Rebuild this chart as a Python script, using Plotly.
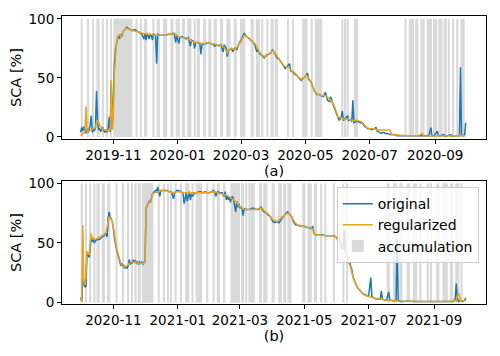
import pandas as pd
import plotly.graph_objects as go

# ---------------- data (day offset from season start, value in %) ----------------
season_a_start = "2019-10-01"
season_b_start = "2020-10-01"

a_original = [(0,4),(1,8),(2,5),(3,9),(4,6),(5,3),(6,7),(7,4),(8,6),(9,10),(10,18),(11,4),(12,6),(13,5),(14,8),
    (15,39),(16,14),(17,6),(18,7),(19,5),(20,6),(21,8),(22,5),(23,4),(24,6),(25,4),(26,7),(27,17),(28,4),(29,45),
    (30,6),(31,40),(32,62),(33,74),(34,80),(35,84),(36,86),(37,83),(38,87),(39,85),(40,89),(42,91),(44,93),(45,92),
    (47,91),(49,90),(51,91),(53,90),(55,89),(57,88),(58,87),(60,83),(61,88),(62,82),(63,88),(65,83),(66,87),(67,86),
    (68,82),(69,87),(71,86),(72,62),(73,87),(75,86),(78,86),(81,86),(83,87),(86,87),(88,88),(89,86),(90,80),(91,86),
    (93,79),(94,84),(96,85),(98,84),(100,83),(102,84),(104,77),(105,82),(107,81),(108,75),(109,80),(111,80),(113,79),
    (114,70),(115,78),(117,79),(119,79),(121,80),(123,79),(125,79),(127,77),(129,78),(131,77),(133,78),(135,72),
    (136,78),(138,75),(139,68),(140,73),(141,74),(143,75),(144,72),(146,75),(148,74),(150,79),(152,82),(154,86),
    (155,88),(157,85),(159,84),(161,82),(163,81),(165,78),(167,72),(168,74),(170,70),(172,69),(174,67),(176,69),
    (178,70),(180,71),(182,74),(184,70),(186,67),(188,66),(190,63),(192,61),(194,58),(196,60),(198,62),(199,56),
    (201,55),(203,53),(205,52),(207,50),(209,48),(211,50),(213,51),(215,54),(216,49),(218,47),(220,43),(222,38),
    (224,36),(226,36),(228,35),(230,34),(232,38),(233,35),(234,31),(236,30),(237,34),(239,28),(241,23),(243,18),
    (245,14),(247,17),(248,22),(249,14),(251,16),(253,18),(254,14),(256,15),(257,13),(258,31),(259,12),(261,13),
    (263,13),(265,12),(267,12),(269,9),(271,8),(272,7),(274,7),(276,6),(278,7),(280,8),(281,5),(283,4),(285,3),
    (287,4),(289,3),(291,3),(293,2),(295,2),(297,2),(300,1),(303,1),(306,1),(309,1),(312,0.5),(315,1),(318,0.5),
    (321,1),(324,0.5),(327,1),(330,1),(332,8),(333,1),(335,1),(338,5),(339,1),(341,1),(344,2),(346,0.5),(348,1),
    (351,2),(352,0.5),(355,1),(357,1),(359,1),(360,59),(361,2),(363,1),(364,2),(365,12)]

a_regularized = [(0,1),(2,3),(4,4),(5,26),(6,5),(8,5),(10,6),(12,7),(14,8),(15,12),(16,14),(18,10),(20,8),(22,6),
    (24,6),(26,5),(28,6),(29,48),(30,6),(31,20),(32,55),(33,72),(34,80),(35,85),(37,87),(38,84),(40,89),(42,91),
    (44,92),(46,91),(50,90),(55,89),(58,88),(62,87),(66,87),(70,86),(75,86),(80,86),(85,87),(88,88),(90,87),(93,85),
    (96,84),(100,84),(104,82),(108,80),(112,80),(116,79),(120,80),(125,79),(130,78),(134,77),(136,76),(139,71),
    (141,74),(143,75),(146,74),(149,77),(152,81),(155,86),(157,85),(160,83),(163,81),(166,78),(168,74),(171,70),
    (174,68),(177,69),(180,71),(182,73),(184,71),(187,67),(190,64),(193,60),(196,59),(198,58),(200,56),(203,54),
    (206,51),(209,49),(211,50),(214,52),(216,50),(219,45),(222,38),(225,36),(229,35),(232,35),(235,33),(238,30),
    (241,25),(244,17),(247,16),(250,15),(254,15),(258,14),(262,14),(266,13),(268,11),(271,8),(274,7),(278,7),
    (282,6),(286,6),(290,6),(293,6),(295,2),(300,1.5),(310,1),(320,1),(324,3),(325,1),(335,0.8),(345,0.8),
    (355,0.8),(360,1.5),(365,1)]

a_accumulation = [(0,2),(6,2),(11,1),(15,3),(20,2),(24,2),(28,1),(31,18),(52,2),(56,2),(60,3),(68,2),(72,3),
    (78,4),(85,3),(90,2),(92,2),(96,3),(101,4),(107,2),(110,3),(116,3),(121,3),(126,3),(132,3),(138,4),(145,3),
    (151,5),(161,3),(166,4),(171,2),(176,2),(180,3),(184,3),(196,1),(201,1),(210,5),(218,2),(222,7),(247,2),
    (250,1),(252,2),(259,4),(307,2),(311,3),(315,1),(317,3),(322,2),(324,2),(328,5),(334,4),(339,4),(344,3),
    (348,2),(352,2),(356,2),(360,4)]

b_original = [(0,4.5),(1,1),(2,20),(3,16),(4,13),(5,14),(6,42),(7,40),(8,38),(9,45),(10,55),(11,51),(12,53),
    (13,50),(14,52),(16,53),(18,53),(20,55),(22,56),(24,58),(25,55),(26,70),(27,76),(28,72),(29,70),(30,68),
    (31,62),(32,54),(34,45),(36,38),(37,35),(38,31),(39,33),(40,30),(41,31),(42,29),(43,30),(44,29),(45,31),
    (46,36),(47,32),(48,34),(49,33),(50,36),(51,34),(52,35),(53,33),(54,34),(55,32),(56,34),(57,33),(58,34),
    (59,32),(60,34),(61,35),(62,78),(63,82),(64,83),(65,85),(66,84),(67,88),(68,91),(69,92),(70,93),(71,94),
    (72,92),(73,97),(74,93),(75,89),(76,94),(78,94),(80,94),(82,94),(84,93),(86,93),(87,90),(88,87),(89,92),
    (91,94),(93,94),(95,93),(97,92),(98,83),(99,90),(100,92),(101,85),(102,91),(103,93),(104,86),(105,91),
    (106,89),(108,92),(110,92),(112,93),(114,93),(116,92),(118,93),(120,92),(122,92),(124,93),(126,94),(127,93),
    (128,89),(130,93),(132,92),(134,92),(136,89),(137,93),(138,86),(139,90),(140,86),(141,89),(142,84),(143,88),
    (144,89),(145,86),(146,80),(147,76),(148,85),(149,80),(150,83),(151,79),(152,80),(153,78),(154,73),(155,79),
    (156,78),(158,78),(160,78),(162,79),(164,79),(166,78),(168,78),(170,79),(171,80),(172,78),(174,76),(176,75),
    (178,73),(180,72),(182,68),(184,67),(186,68),(188,67),(190,70),(192,72),(194,74),(196,76),(198,74),(200,72),
    (202,67),(204,65),(206,65),(208,64),(210,64),(212,64),(214,63),(216,63),(218,62),(220,64),(221,58),(223,57),
    (226,57),(229,57),(232,56),(235,56),(238,56),(240,56),(242,55),(244,52),(245,55),(246,50),(248,45),(249,48),
    (250,61),(251,42),(252,40),(253,39),(254,33),(255,35),(256,30),(257,28),(258,22),(259,19),(261,15),(263,12),
    (265,10),(267,8),(269,7),(271,6),(273,6),(275,21),(276,5),(278,4),(280,3),(282,3),(284,3),(285,10),(286,3),
    (288,2),(290,2),(292,9),(293,2),(295,2),(297,1.5),(299,2),(300,53),(301,2),(303,1),(306,1),(310,1.5),
    (315,1),(320,1),(325,1),(330,1.5),(335,1),(340,1),(345,1),(350,1),(353,1),(355,3),(356,16),(357,4),(358,1),
    (360,2),(362,1),(364,2),(365,4)]

b_regularized = [(0,4),(1,1),(2,65),(3,18),(4,15),(5,22),(6,43),(7,42),(8,40),(9,48),(10,58),(11,53),(12,54),
    (14,53),(16,54),(18,55),(20,56),(22,57),(24,59),(26,68),(27,72),(28,71),(30,68),(32,58),(34,46),(36,39),
    (38,33),(40,30),(42,30),(44,31),(46,33),(48,34),(50,34),(52,34),(54,33),(56,33),(58,33),(60,33),(61,34),
    (62,80),(63,82),(65,84),(67,87),(68,91),(70,92),(72,93),(74,93),(76,94),(80,94),(84,93),(88,92),(90,93),
    (94,93),(98,92),(102,92),(106,92),(110,92),(116,92),(120,92),(126,93),(130,92),(134,91),(138,90),(142,88),
    (145,86),(148,84),(150,81),(152,80),(155,78),(160,78),(166,78),(170,79),(172,79),(174,77),(178,74),(182,70),
    (186,68),(190,71),(193,73),(196,75),(198,74),(200,72),(203,67),(206,65),(210,64),(214,63),(218,63),(220,62),
    (222,57),(226,57),(232,56),(238,56),(242,55),(244,53),(246,51),(248,48),(250,45),(252,40),(254,35),(256,29),
    (258,22),(260,17),(262,13),(264,11),(266,9),(268,7),(270,6),(274,5),(278,4),(285,3),(290,2),(300,1.5),
    (310,1),(320,1),(330,1),(340,1),(350,1),(356,2),(358,8),(359,6),(360,2),(365,1.5)]

b_accumulation = [(0,2),(4,2),(8,2),(12,2),(15,3),(20,3),(25,3),(33,2),(39,2),(44,1),(48,1),(51,2),(54,3),
    (58,11),(73,2),(78,2),(82,1),(85,1),(89,2),(94,2),(99,4),(105,2),(109,6),(119,2),(125,2),(129,3),(135,2),
    (142,9),(152,3),(156,2),(159,2),(161,4),(169,3),(173,4),(181,3),(187,4),(192,3),(196,4),(210,3),(215,4),
    (221,3),(227,2),(231,2),(239,2),(248,2),(252,1),(290,3),(296,4),(302,3),(309,3),(315,4),(321,2),(328,2),
    (331,2),(337,3),(343,5),(350,3),(355,4),(360,2)]

x_view_days = (-17.7, 384.2)     # visible span, days relative to season start
y_view_a = (-1.7, 102.4)
y_view_b = (-1.1, 101.9)
accum_top = 100

BLUE = "#1f77b4"
ORANGE = "#eaa31d"
GRAY = "#d9d9d9"
FONT = "DejaVu Sans"

DAY_MS = 86400000


def to_dates(start, days):
    return pd.Timestamp(start) + pd.to_timedelta(list(days), unit="D")


fig = go.Figure()

panels = [
    (season_a_start, a_original, a_regularized, a_accumulation, "x", "y", False),
    (season_b_start, b_original, b_regularized, b_accumulation, "x2", "y2", True),
]

for start, orig, reg, acc, xa, ya, show in panels:
    acc_centers = [s + n / 2 for s, n in acc]
    fig.add_trace(go.Bar(
        x=to_dates(start, acc_centers), y=[accum_top] * len(acc), base=0,
        width=[n * DAY_MS for s, n in acc],
        marker=dict(color=GRAY, line=dict(width=0)),
        name="accumulation", showlegend=show, legendrank=3,
        xaxis=xa, yaxis=ya, hoverinfo="skip"))
    fig.add_trace(go.Scatter(
        x=to_dates(start, [d for d, v in orig]), y=[v for d, v in orig],
        mode="lines", line=dict(color=BLUE, width=1.5),
        name="original", showlegend=show, legendrank=1, xaxis=xa, yaxis=ya))
    fig.add_trace(go.Scatter(
        x=to_dates(start, [d for d, v in reg]), y=[v for d, v in reg],
        mode="lines", line=dict(color=ORANGE, width=1.5),
        name="regularized", showlegend=show, legendrank=2, xaxis=xa, yaxis=ya))

axis_common = dict(showline=True, linecolor="black", linewidth=1, mirror=True,
                   ticks="outside", ticklen=4, tickwidth=1, tickcolor="black",
                   showgrid=False, zeroline=False, automargin=False,
                   tickfont=dict(family=FONT, size=13.5, color="black"))

title_font = dict(family=FONT, size=14.5, color="black")

ra = to_dates(season_a_start, x_view_days)
rb = to_dates(season_b_start, x_view_days)

# the page body adds an 8px offset, so the figure is sized to fit the 500x356 window
fig.update_layout(
    width=484, height=340,
    margin=dict(l=54, r=6, t=8, b=44),
    paper_bgcolor="white", plot_bgcolor="white",
    font=dict(family=FONT, size=13, color="black"),
    barmode="overlay",
    xaxis=dict(axis_common, domain=[0, 1], anchor="y", type="date",
               range=[ra[0], ra[1]], dtick="M2", tick0="2019-11-01", tickformat="%Y-%m",
               title=dict(text="(a)", font=title_font, standoff=0)),
    yaxis=dict(axis_common, domain=[0.573, 1], anchor="x", range=list(y_view_a),
               tickvals=[0, 50, 100], title=dict(text="SCA [%]", font=title_font, standoff=4)),
    xaxis2=dict(axis_common, domain=[0, 1], anchor="y2", type="date",
                range=[rb[0], rb[1]], dtick="M2", tick0="2020-11-01", tickformat="%Y-%m",
                title=dict(text="(b)", font=title_font, standoff=0)),
    yaxis2=dict(axis_common, domain=[0, 0.427], anchor="x2", range=list(y_view_b),
                tickvals=[0, 50, 100], title=dict(text="SCA [%]", font=title_font, standoff=4)),
    legend=dict(x=0.983, y=0.406, xanchor="right", yanchor="top",
                bgcolor="rgba(255,255,255,0.8)", bordercolor="#cccccc", borderwidth=1,
                font=dict(family=FONT, size=14), tracegroupgap=0),
)

fig.write_html("out.html")
